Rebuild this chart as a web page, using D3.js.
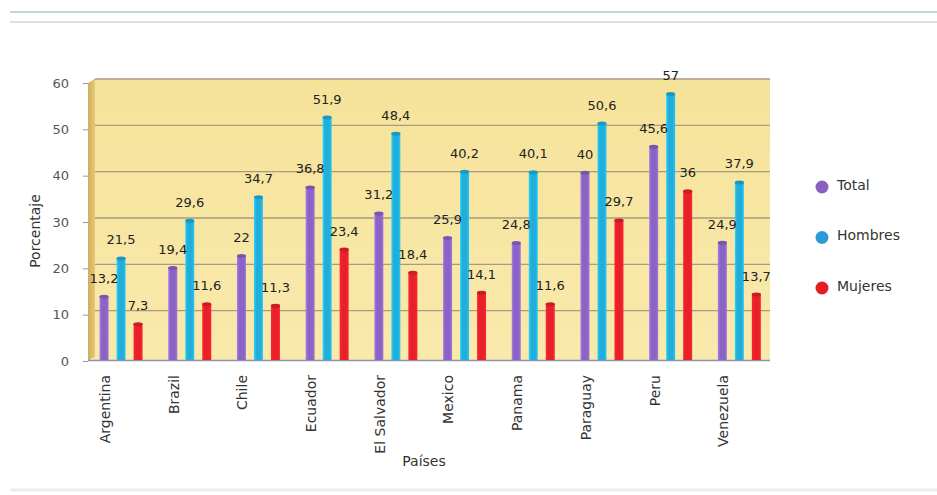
<!DOCTYPE html>
<html>
<head>
<meta charset="utf-8">
<script src="https://cdn.jsdelivr.net/npm/d3@7"></script>
<style>
  html, body { margin: 0; padding: 0; background: #ffffff; }
  svg { display: block; font-family: "DejaVu Sans", sans-serif; }
</style>
</head>
<body>
<svg id="chart" width="937" height="495"></svg>
<script>
// ---- data ----
const countries = ["Argentina", "Brazil", "Chile", "Ecuador", "El Salvador", "Mexico", "Panama", "Paraguay", "Peru", "Venezuela"];
const seriesNames = ["Total", "Hombres", "Mujeres"];
const total   = [13.2, 19.4, 22, 36.8, 31.2, 25.9, 24.8, 40, 45.6, 24.9];
const hombres = [21.5, 29.6, 34.7, 51.9, 48.4, 40.2, 40.1, 50.6, 57, 37.9];
const mujeres = [7.3, 11.6, 11.3, 23.4, 18.4, 14.1, 11.6, 29.7, 36, 13.7];
const yTicks  = [0, 10, 20, 30, 40, 50, 60];
const seriesColors = ["#8a64c4", "#22aedb", "#e8202a"];
const legendColors = ["#8a5fc0", "#2e9ad8", "#e81c24"];

const seriesValues = [total, hombres, mujeres];

const svg = d3.select("#chart");
const defs = svg.append("defs");

// top decoration lines
svg.append("line").attr("x1", 10).attr("x2", 937).attr("y1", 12).attr("y2", 12)
  .attr("stroke", "#b8ddd0").attr("stroke-width", 2);
svg.append("line").attr("x1", 10).attr("x2", 937).attr("y1", 22).attr("y2", 22)
  .attr("stroke", "#d4d4d4").attr("stroke-width", 1.5);
svg.append("line").attr("x1", 10).attr("x2", 937).attr("y1", 490).attr("y2", 490)
  .attr("stroke", "#ececec").attr("stroke-width", 3);

// scales
const x = d3.scaleBand().domain(countries).range([86.7, 773.7]).padding(0);
const inner = d3.scaleBand().domain(seriesNames).range([8.85, 59.85]).padding(0);
const y = d3.scaleLinear().domain([0, 60]).range([357, 79]);
const floorY = 360;
const barW = 9;

// plot background
const bgGrad = defs.append("linearGradient").attr("id", "bg").attr("x1", 0).attr("y1", 0).attr("x2", 0).attr("y2", 1);
bgGrad.append("stop").attr("offset", "0%").attr("stop-color", "#f6e39a");
bgGrad.append("stop").attr("offset", "100%").attr("stop-color", "#f9e9ab");
svg.append("rect").attr("x", 93).attr("y", y(60)).attr("width", 770 - 93).attr("height", floorY - y(60))
  .attr("fill", "url(#bg)");
// left wall
const wallGrad = defs.append("linearGradient").attr("id", "wall").attr("x1", 0).attr("y1", 0).attr("x2", 1).attr("y2", 0);
wallGrad.append("stop").attr("offset", "0%").attr("stop-color", "#cfae5e");
wallGrad.append("stop").attr("offset", "100%").attr("stop-color", "#e6c978");
svg.append("path")
  .attr("d", `M88,${y(60) + 4} L95,${y(60)} L95,${floorY - 3} L88,${floorY + 1} Z`)
  .attr("fill", "url(#wall)");

// gridlines
svg.append("g").selectAll("line").data(yTicks.filter(d => d > 0)).join("line")
  .attr("x1", 95).attr("x2", 770)
  .attr("y1", d => y(d)).attr("y2", d => y(d))
  .attr("stroke", "#a89a84").attr("stroke-width", 1.4);

// floor
svg.append("line").attr("x1", 88).attr("x2", 770).attr("y1", floorY + 0.5).attr("y2", floorY + 0.5)
  .attr("stroke", "#8a95a5").attr("stroke-width", 1.5);

// y axis
const yAxis = d3.axisLeft(y).tickValues(yTicks).tickSize(5).tickPadding(14).tickFormat(d3.format("d"));
const gy = svg.append("g").attr("transform", "translate(88,4)").call(yAxis);
gy.select(".domain").remove();
gy.selectAll(".tick line").attr("stroke", "#9a9a9a");
gy.selectAll(".tick text").attr("fill", "#555").attr("font-size", 13).attr("font-family", "DejaVu Sans");

// bar gradients
seriesColors.forEach((c, i) => {
  const g = defs.append("linearGradient").attr("id", "bar" + i).attr("x1", 0).attr("y1", 0).attr("x2", 1).attr("y2", 0);
  const col = d3.color(c);
  g.append("stop").attr("offset", "0%").attr("stop-color", col.brighter(0.6));
  g.append("stop").attr("offset", "25%").attr("stop-color", c);
  g.append("stop").attr("offset", "75%").attr("stop-color", c);
  g.append("stop").attr("offset", "100%").attr("stop-color", col.brighter(0.4));
});

// bars
const barsData = [];
countries.forEach((c, ci) => {
  seriesNames.forEach((s, si) => {
    barsData.push({ country: c, series: s, si: si, value: seriesValues[si][ci] });
  });
});
const fmt = v => String(v).replace(".", ",");

const gBars = svg.append("g");
gBars.selectAll("rect.bar").data(barsData).join("rect")
  .attr("class", "bar")
  .attr("x", d => x(d.country) + inner(d.series) + inner.bandwidth() / 2 - barW / 2)
  .attr("y", d => y(d.value))
  .attr("width", barW)
  .attr("height", d => floorY - y(d.value))
  .attr("fill", d => `url(#bar${d.si})`);
gBars.selectAll("ellipse.cap").data(barsData).join("ellipse")
  .attr("class", "cap")
  .attr("cx", d => x(d.country) + inner(d.series) + inner.bandwidth() / 2)
  .attr("cy", d => y(d.value) + 1)
  .attr("rx", barW / 2).attr("ry", 2)
  .attr("fill", d => d3.color(seriesColors[d.si]).darker(0.4));

// data labels
svg.append("g").selectAll("text").data(barsData).join("text")
  .attr("x", d => x(d.country) + inner(d.series) + inner.bandwidth() / 2)
  .attr("y", d => y(d.value) - 13)
  .attr("text-anchor", "middle")
  .attr("font-size", 13)
  .attr("fill", "#222")
  .text(d => fmt(d.value));

// x labels
svg.append("g").selectAll("text").data(countries).join("text")
  .attr("transform", d => `translate(${x(d) + inner("Total") + inner.bandwidth() / 2 + 1},375) rotate(-90)`)
  .attr("text-anchor", "end")
  .attr("dy", "0.35em")
  .attr("font-size", 14)
  .attr("fill", "#333")
  .text(d => d);

// axis titles
svg.append("text").attr("x", 424).attr("y", 466).attr("text-anchor", "middle")
  .attr("font-size", 14).attr("fill", "#333").text("Países");
svg.append("text").attr("transform", "translate(35,231) rotate(-90)").attr("text-anchor", "middle")
  .attr("dy", "0.35em").attr("font-size", 14).attr("fill", "#333").text("Porcentaje");

// legend
const legend = svg.append("g");
const legY = d3.scalePoint().domain(seriesNames).range([185, 286]);
legend.selectAll("circle").data(seriesNames).join("circle")
  .attr("cx", 822).attr("cy", d => legY(d) + 2).attr("r", 6.5)
  .attr("fill", (d, i) => legendColors[i]);
legend.selectAll("text").data(seriesNames).join("text")
  .attr("x", 837).attr("y", d => legY(d)).attr("dy", "0.35em")
  .attr("font-size", 14).attr("fill", "#333")
  .text(d => d);
</script>
</body>
</html>
